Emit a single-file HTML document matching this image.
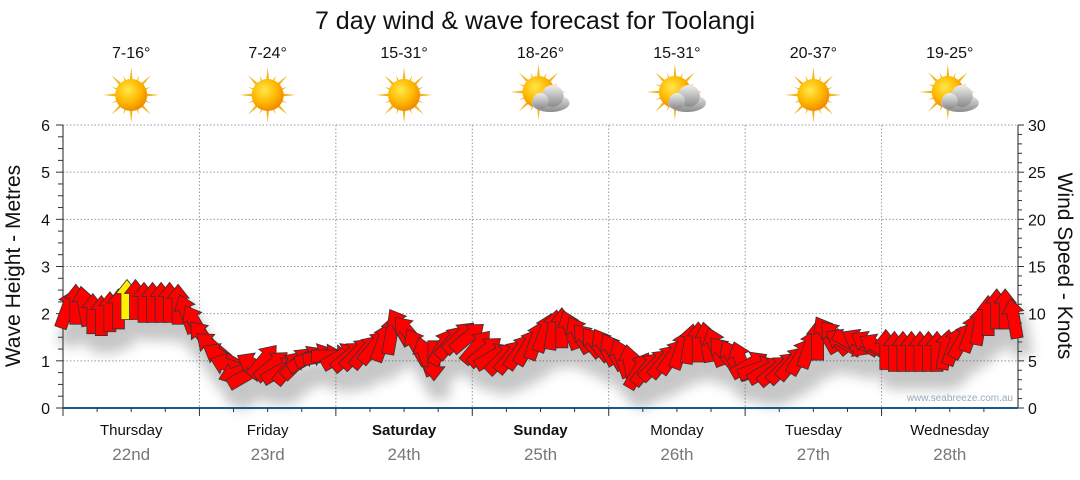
<!DOCTYPE html>
<html><head><meta charset="utf-8"><style>
body{margin:0;background:#fff;width:1080px;height:475px;overflow:hidden;font-family:"Liberation Sans","DejaVu Sans",sans-serif}
</style></head><body>
<svg id="c" width="1080" height="475" xmlns="http://www.w3.org/2000/svg">
<defs>
<filter id="sh" x="-50%" y="-50%" width="200%" height="200%"><feGaussianBlur stdDeviation="6"/></filter>
<radialGradient id="sun" cx="40%" cy="35%" r="65%"><stop offset="0" stop-color="#ffe84a"/><stop offset="0.6" stop-color="#ffb800"/><stop offset="1" stop-color="#f08a00"/></radialGradient>
<linearGradient id="cloud" x1="0" y1="0" x2="0" y2="1"><stop offset="0" stop-color="#eeeeee"/><stop offset="1" stop-color="#8a8a8a"/></linearGradient>
</defs>
<text x="535" y="29" text-anchor="middle" font-size="25" fill="#111">7 day wind &amp; wave forecast for Toolangi</text>
<g id="grid"></g><g id="axes"></g><g id="icons"></g>
<g id="shadows" filter="url(#sh)" opacity="0.3"></g><g id="arrows"></g>
<text x="1013" y="401" text-anchor="end" font-size="10" fill="#9ab">www.seabreeze.com.au</text>
<text transform="translate(20,266) rotate(-90)" text-anchor="middle" font-size="21" fill="#111">Wave Height - Metres</text>
<text transform="translate(1058,266) rotate(90)" text-anchor="middle" font-size="21" fill="#111">Wind Speed - Knots</text>
</svg>
<script>
const days=["Thursday","Friday","Saturday","Sunday","Monday","Tuesday","Wednesday"];
const dates=["22nd","23rd","24th","25th","26th","27th","28th"];
const boldDays=[false,false,true,true,false,false,false];
const temps=["7-16°","7-24°","15-31°","18-26°","15-31°","20-37°","19-25°"];
const cloudy=[false,false,false,true,true,false,true];
const leftTicks=[0,1,2,3,4,5,6];
const rightTicks=[0,5,10,15,20,25,30];
const windSpeed=[10.5,11,10.8,10,9.8,10.2,10.5,11.5,11.5,11.2,11.2,11.2,11.2,11,10,9,
7.5,6.5,5.5,4.5,3.8,3.5,4.5,5,4.5,4,4.3,4.8,5.2,5.5,5.5,5.5,
5.5,5.5,5.8,6,6.5,7,7.8,8.6,8,6.5,5.5,5,6.5,7,7.5,7.5,
6.5,6,5.5,5.3,5.5,6,6.5,7.2,8,8.3,8.5,8.3,7.8,7.2,6.8,6.5,
6,5.3,4.6,4,4.2,4.6,5,5.5,6.2,6.8,7,7,6.5,5.8,5.3,5,
4.6,4.2,4,4,4.3,4.8,5.5,6.3,7.2,7.8,7.5,7,6.8,7,6.8,6.5,
6.2,6,6,6,6,6,6,6.2,6.6,7.2,8,8.8,9.8,10.5,10.5,9.5];
const windDir=[20,0,-10,0,0,0,0,0,0,0,0,0,0,0,-20,-30,
-40,-50,-60,-70,-110,60,-60,40,50,60,40,45,60,70,80,90,
60,50,45,40,40,20,10,-30,-40,-30,-20,180,30,40,45,50,
40,50,60,45,40,35,30,20,20,10,0,-20,-30,-40,-40,-30,
-30,-20,-10,30,40,45,40,35,20,10,0,-10,-20,-40,-30,-20,
60,70,60,50,45,40,30,20,0,-30,-40,-60,120,-60,-60,-60,
0,0,0,0,0,0,0,10,20,30,20,10,0,0,0,-10];
const X0=63,X1=1018,Y0=408,Y6=125;
const dayW=(X1-X0)/7;
const yM=m=>Y0-(Y0-Y6)*m/6;
const yK=k=>Y0-(Y0-Y6)*k/30;
const xT=i=>X0+dayW*(i+0.5)/16;
const NS="http://www.w3.org/2000/svg";
function mk(p,t,a){const e=document.createElementNS(NS,t);for(const k in a)e.setAttribute(k,a[k]);p.appendChild(e);return e;}
const grid=document.getElementById('grid'),axes=document.getElementById('axes'),icons=document.getElementById('icons');
leftTicks.forEach(v=>{if(v>0){const l=mk(grid,'line',{x1:X0,x2:X1,y1:yM(v),y2:yM(v),stroke:'#999','stroke-dasharray':'1.5,2','stroke-width':1});

}
const t=mk(axes,'text',{x:50,y:yM(v)+6,'text-anchor':'end','font-size':16,fill:'#111'});t.textContent=v;

});
for(let m=0;m<=24;m++)mk(axes,'line',{x1:m%4?58:56,x2:X0,y1:yM(m/4),y2:yM(m/4),stroke:'#333'});
rightTicks.forEach(v=>{const t=mk(axes,'text',{x:1028,y:yK(v)+6,'font-size':16,fill:'#111'});t.textContent=v;

});
for(let k=0;k<=30;k++)mk(axes,'line',{x1:X1,x2:k%5?1022:1024,y1:yK(k),y2:yK(k),stroke:'#333'});
mk(axes,'line',{x1:X0,x2:X0,y1:Y6,y2:Y0,stroke:'#222'});
mk(axes,'line',{x1:X1,x2:X1,y1:Y6,y2:Y0,stroke:'#222'});
mk(axes,'line',{x1:X0,x2:X1,y1:Y0,y2:Y0,stroke:'#1a5a8a','stroke-width':2});
for(let d=0;d<7;d++){
 const cx=X0+dayW*(d+0.5);
 if(d>0){const l=mk(grid,'line',{x1:X0+dayW*d,x2:X0+dayW*d,y1:Y6,y2:Y0+5,stroke:'#999','stroke-dasharray':'1.5,2'});
 
 }
 for(let q=0;q<4;q++)mk(axes,'line',{x1:X0+dayW*(d+q/4),x2:X0+dayW*(d+q/4),y1:Y0,y2:Y0+(q?4:8),stroke:'#333'});
 const dl=mk(axes,'text',{x:cx,y:435,'text-anchor':'middle','font-size':15,fill:'#111','font-weight':boldDays[d]?'bold':'normal'});dl.textContent=days[d];
 
 
 const dt=mk(axes,'text',{x:cx,y:460,'text-anchor':'middle','font-size':17,fill:'#777'});dt.textContent=dates[d];
 
 
 const tt=mk(icons,'text',{x:cx,y:58,'text-anchor':'middle','font-size':16,fill:'#111'});tt.textContent=temps[d];
 
 
 const g=mk(icons,'g',{transform:`translate(${cx-(cloudy[d]?2:0)},${cloudy[d]?92:95})`});
 
 
 for(let r=0;r<16;r++){const L=r%2?21:28;mk(g,'polygon',{points:`-3,0 3,0 0,${-L}`,fill:'#f2b418',transform:`rotate(${r*22.5})`});}
 mk(g,'circle',{r:16,fill:'url(#sun)'});
 if(cloudy[d]){const cg=mk(g,'g',{transform:'translate(12,8)'});
  mk(cg,'ellipse',{cx:0,cy:3,rx:19,ry:9,fill:'url(#cloud)'});mk(cg,'circle',{cx:2,cy:-4,r:11,fill:'url(#cloud)'});mk(cg,'circle',{cx:-10,cy:1,r:8,fill:'url(#cloud)'});}
}
const sh=document.getElementById('shadows'),ar=document.getElementById('arrows');
const shape="-6,20 6,20 6,-6 11,-6 0,-20 -11,-6 -6,-6";
windSpeed.forEach((v,i)=>{
 const tr=`translate(${xT(i)},${yK(v)}) rotate(${windDir[i]})`;
 mk(sh,'polygon',{points:"-10,20 10,20 10,-20 -10,-20",fill:'#444',transform:`translate(6,18) `+tr});
 const a=mk(ar,'polygon',{points:shape,fill:(i==7?'#ffee00':'#ff0000'),stroke:'#333','stroke-width':0.8,transform:tr});
 
 
});
</script>
</body></html>
